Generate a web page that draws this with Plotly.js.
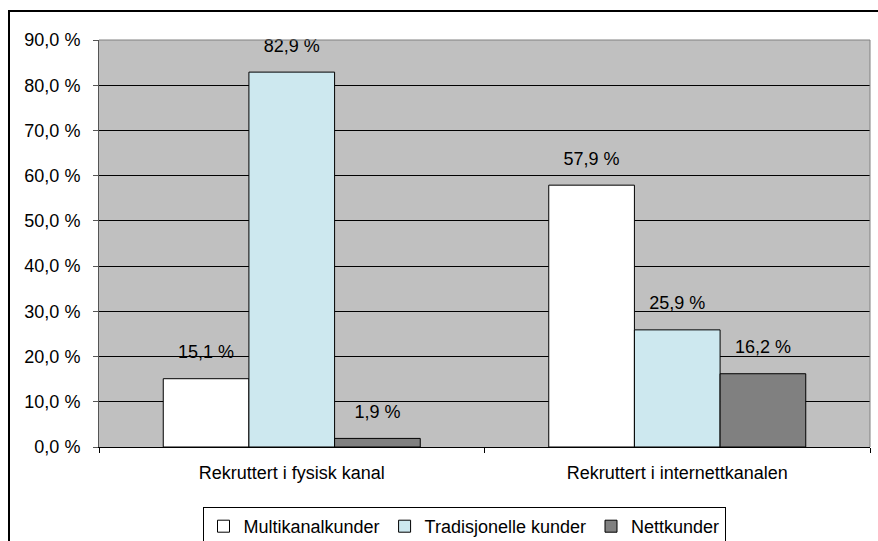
<!DOCTYPE html>
<html>
<head>
<meta charset="utf-8">
<script src="https://cdn.plot.ly/plotly-3.0.1.min.js"></script>
<style>html,body{margin:0;padding:0;background:#fff;}#chart{width:878px;height:541px;}</style>
</head>
<body>
<div id="chart"></div>
<script>
const categories = ["Rekruttert i fysisk kanal", "Rekruttert i internettkanalen"];
const seriesNames = ["Multikanalkunder", "Tradisjonelle kunder", "Nettkunder"];
const multikanal = [15.1, 57.9];
const tradisjonelle = [82.9, 25.9];
const nettkunder = [1.9, 16.2];
const yTicks = [0, 10, 20, 30, 40, 50, 60, 70, 80, 90];

const colors = ["#FFFFFF", "#CDE8EF", "#808080"];
const values = [multikanal, tradisjonelle, nettkunder];
const font = {family: "Liberation Sans, Arial, sans-serif", size: 18, color: "#000"};
const fmt = v => v.toFixed(1).replace(".", ",") + " %";

const bars = values.map((v, i) => ({
  type: "bar",
  name: seriesNames[i],
  x: categories,
  y: v,
  offsetgroup: "g" + i,
  marker: {color: colors[i], line: {color: "#000", width: 1}},
  hoverinfo: "skip"
}));

const labels = values.map((v, i) => ({
  type: "scatter",
  mode: "markers+text",
  x: categories,
  y: v,
  offsetgroup: "g" + i,
  text: v.map(fmt),
  textposition: "top center",
  textfont: font,
  marker: {size: 24, opacity: 0},
  cliponaxis: false,
  showlegend: false,
  hoverinfo: "skip"
}));

const L = 99, R = 8, T = 40, B = 94, W = 878, H = 541;
const pw = W - L - R, ph = H - T - B;
const px = x => (x - L) / pw;
const py = y => (H - B - y) / ph;

const layout = {
  width: W, height: H,
  margin: {l: L, r: R, t: T, b: B, autoexpand: false},
  paper_bgcolor: "#fff",
  plot_bgcolor: "#C0C0C0",
  separators: ", ",
  font: font,
  barmode: "group",
  bargap: 1/3,
  bargroupgap: 0,
  scattermode: "group",
  scattergap: 1/3,
  showlegend: true,
  legend: {
    orientation: "h",
    x: px(464), xanchor: "center",
    y: py(507), yanchor: "top",
    bordercolor: "#000", borderwidth: 1,
    font: font,
    itemclick: false,
    traceorder: "normal"
  },
  xaxis: {
    type: "category",
    showgrid: false,
    showline: true, linecolor: "#000", linewidth: 1,
    ticks: "outside", ticklen: 5, tickcolor: "#000",
    tickson: "boundaries",
    ticklabelstandoff: 9,
    tickfont: font,
    fixedrange: true
  },
  yaxis: {
    range: [0, 90],
    tickmode: "array",
    tickvals: yTicks,
    ticktext: yTicks.map(fmt),
    showgrid: true, gridcolor: "#000", gridwidth: 1,
    zeroline: false,
    showline: true, linecolor: "#555", linewidth: 1,
    ticks: "outside", ticklen: 5, tickcolor: "#555",
    ticklabelstandoff: 9,
    tickfont: font,
    fixedrange: true
  },
  shapes: [
    {type: "line", xref: "paper", yref: "paper", x0: 0, x1: 1, y0: 1, y1: 1, line: {color: "#808080", width: 1}, layer: "above"},
    {type: "line", xref: "paper", yref: "paper", x0: 1, x1: 1, y0: 0, y1: 1, line: {color: "#808080", width: 1}, layer: "above"},
    {type: "rect", xref: "paper", yref: "paper", x0: px(9), x1: px(895), y0: py(560), y1: py(11), line: {color: "#000", width: 2}, fillcolor: "rgba(0,0,0,0)", layer: "above"}
  ]
};

Plotly.newPlot("chart", bars.concat(labels), layout, {staticPlot: true, displayModeBar: false});
</script>
</body>
</html>
